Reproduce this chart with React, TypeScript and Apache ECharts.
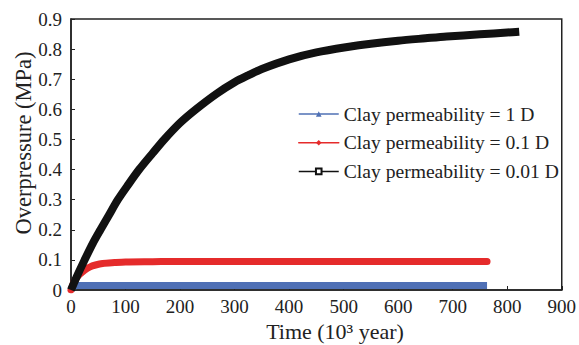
import React, { useEffect, useRef } from "react";
import * as echarts from "echarts";

const seriesNames = [
  "Clay permeability = 1 D",
  "Clay permeability = 0.1 D",
  "Clay permeability = 0.01 D",
];

const blueTime = [0, 3, 10, 50, 100, 200, 300, 400, 500, 600, 700, 763];
const blueP = [0, 0.012, 0.015, 0.015, 0.015, 0.015, 0.015, 0.015, 0.015, 0.015, 0.015, 0.015];

const redTime = [0, 5, 10, 16, 25, 35, 45, 58, 80, 100, 150, 200, 300, 400, 500, 600, 700, 763];
const redP = [0, 0.025, 0.04, 0.052, 0.066, 0.077, 0.083, 0.088, 0.091, 0.093, 0.094, 0.095, 0.095, 0.095, 0.095, 0.095, 0.095, 0.095];

const blackTime = [0, 10, 25, 40, 54, 70, 86, 105, 125, 150, 171, 200, 229, 267, 300, 325, 350, 400, 450, 507, 550, 600, 650, 689, 750, 800, 822];
const blackP = [0, 0.042, 0.1, 0.155, 0.2, 0.25, 0.3, 0.35, 0.4, 0.455, 0.5, 0.555, 0.6, 0.652, 0.69, 0.713, 0.734, 0.766, 0.789, 0.807, 0.818, 0.828, 0.836, 0.842, 0.849, 0.855, 0.858];

const xTicks = { min: 0, max: 900, interval: 100 };
const yTicks = { min: 0, max: 0.9, interval: 0.1 };

const xName = "Time (10³ year)";
const yName = "Overpressure (MPa)";

const zip = (a: number[], b: number[]) => a.map((t, i) => [t, b[i]]);

const FONT = "'Liberation Serif', 'Times New Roman', serif";

export default function App() {
  const ref = useRef<HTMLDivElement>(null);
  useEffect(() => {
    if (!ref.current) return;
    const chart = echarts.init(ref.current, null, { renderer: "svg" });
    const axisCommon = {
      axisLine: { show: true, lineStyle: { color: "#222", width: 1.5 } },
      axisTick: { show: true, inside: true, length: 4, lineStyle: { color: "#222", width: 1 } },
      splitLine: { show: false },
      axisLabel: { color: "#222", fontFamily: FONT, fontSize: 19 },
    };
    chart.setOption({
      animation: false,
      backgroundColor: "#fff",
      grid: {
        left: 71,
        right: 13,
        top: 19,
        bottom: 55,
        show: true,
        borderColor: "#222",
        borderWidth: 1.5,
        backgroundColor: "transparent",
      },
      xAxis: {
        type: "value",
        ...xTicks,
        ...axisCommon,
        axisLabel: { ...axisCommon.axisLabel, margin: 7 },
      },
      yAxis: {
        type: "value",
        ...yTicks,
        ...axisCommon,
        axisLabel: { ...axisCommon.axisLabel, margin: 9 },
      },
      legend: {
        orient: "vertical",
        left: 298,
        top: 104,
        padding: 0,
        itemWidth: 40,
        itemHeight: 7,
        itemGap: 8.7,
        data: seriesNames,
        lineStyle: { width: 1.5 },
        textStyle: { color: "#222", fontFamily: FONT, fontSize: 19.6, lineHeight: 20 },
      },
      graphic: [
        {
          type: "text",
          x: 23,
          y: 143,
          rotation: Math.PI / 2,
          style: {
            text: yName,
            fontFamily: FONT,
            fontSize: 22.5,
            fill: "#222",
            textAlign: "center",
            textVerticalAlign: "middle",
          },
        },
        {
          type: "text",
          x: 335,
          y: 331,
          style: {
            text: xName,
            fontFamily: FONT,
            fontSize: 22,
            fill: "#222",
            textAlign: "center",
            textVerticalAlign: "middle",
          },
        },
      ],
      series: [
        {
          name: seriesNames[0],
          type: "line",
          data: zip(blueTime, blueP),
          symbol: "triangle",
          showSymbol: false,
          color: "#4f70b5",
          lineStyle: { width: 7, color: "#4f70b5", cap: "butt" },
          z: 2,
        },
        {
          name: seriesNames[1],
          type: "line",
          data: zip(redTime, redP),
          symbol: "diamond",
          showSymbol: false,
          smooth: 0.3,
          color: "#e52b2b",
          lineStyle: { width: 7, color: "#e52b2b", cap: "round" },
          z: 3,
        },
        {
          name: seriesNames[2],
          type: "line",
          data: zip(blackTime, blackP),
          symbol: "emptyRect",
          showSymbol: false,
          smooth: 0.3,
          color: "#111",
          lineStyle: { width: 8, color: "#111", cap: "butt", join: "round" },
          z: 4,
        },
      ],
    });
    return () => chart.dispose();
  }, []);
  return <div ref={ref} style={{ width: 579, height: 345, position: "absolute", left: 0, top: 0 }} />;
}
